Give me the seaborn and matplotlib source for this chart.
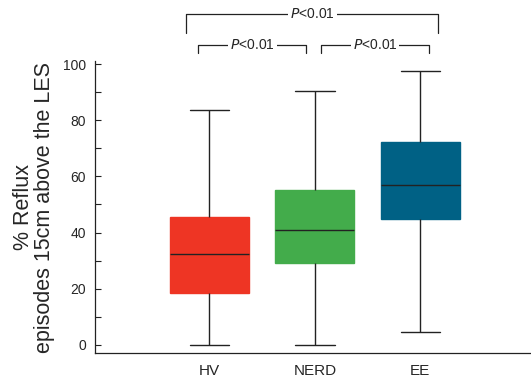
import matplotlib
matplotlib.use("Agg")
import matplotlib.pyplot as plt
from matplotlib.ticker import MultipleLocator
import numpy as np
import pandas as pd
import seaborn as sns

# five-number summaries: min, Q1, median, Q3, max
grupos = ['HV', 'NERD', 'EE']
hv = [0.0, 18.3, 32.4, 45.7, 83.7]
nerd = [0.0, 29.3, 40.9, 55.2, 90.5]
ee = [4.7, 44.7, 56.9, 72.1, 97.7]
cores = ['#EE3524', '#43AC4B', '#006185']

# comparações (grupo a, grupo b, texto)
comparacoes = [('HV', 'NERD', 'P<0.01'), ('NERD', 'EE', 'P<0.01'), ('HV', 'EE', 'P<0.01')]

df = pd.DataFrame({
    'grupo': np.repeat(grupos, 5),
    'valor': hv + nerd + ee,
})

sns.set_style('ticks')
plt.rcParams['font.family'] = ['Liberation Sans', 'DejaVu Sans']

fig = plt.figure(figsize=(5.31, 3.81), dpi=100)
ax = fig.add_axes([0.178, 0.073, 0.822, 0.766])

sns.boxplot(data=df, x='grupo', y='valor', hue='grupo', order=grupos,
            palette=dict(zip(grupos, cores)), legend=False, width=0.75,
            whis=(0, 100), linecolor='#222222', linewidth=1.0, saturation=1,
            showfliers=False, ax=ax)

# caixas sem contorno
for p in ax.patches:
    p.set_edgecolor(p.get_facecolor())

ax.set_xlim(-1.09, 3.05)
ax.set_ylim(-3, 101)
ax.yaxis.set_major_locator(MultipleLocator(20))
ax.yaxis.set_minor_locator(MultipleLocator(10))
ax.tick_params(axis='y', which='both', direction='in', length=4, width=0.8,
               labelsize=10, pad=6, color='#222222')
ax.tick_params(axis='x', length=0, labelsize=11, pad=8)
ax.set_xlabel('')
ax.set_ylabel('% Reflux\nepisodes 15cm above the LES', fontsize=15.5,
              labelpad=6, linespacing=1.0)
sns.despine(ax=ax, top=True, right=True)
for s in ['left', 'bottom']:
    ax.spines[s].set_linewidth(0.9)
    ax.spines[s].set_color('#222222')

# colchetes de significância
niveis = {('HV', 'NERD'): (106.9, 104.0, -0.105, 0.92),
          ('NERD', 'EE'): (106.9, 104.0, 1.06, 2.08),
          ('HV', 'EE'): (117.8, 111.0, -0.22, 2.17)}
for a, b, txt in comparacoes:
    yt, yb, x0, x1 = niveis[(a, b)]
    ax.plot([x0, x0, x1, x1], [yb, yt, yt, yb], color='#222222', lw=0.9,
            clip_on=False)
    ax.text((x0 + x1) / 2, yt, r'$\mathit{P}$<0.01', ha='center', va='center',
            fontsize=10, clip_on=False,
            bbox=dict(facecolor='white', edgecolor='none', pad=1.5))

fig.savefig('out.png', dpi=100)
